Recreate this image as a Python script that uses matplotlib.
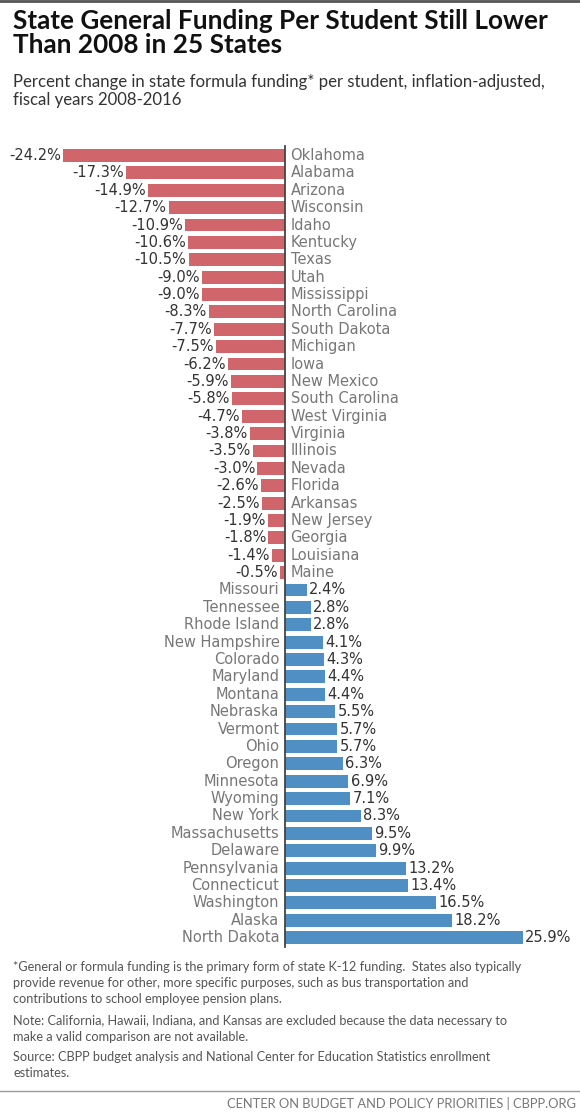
import matplotlib
matplotlib.use("Agg")
import matplotlib.pyplot as plt
from matplotlib.lines import Line2D

# 各州数据 (2008-2016 按学生计算的州公式拨款变化, %)
states = ["Oklahoma", "Alabama", "Arizona", "Wisconsin", "Idaho", "Kentucky", "Texas",
          "Utah", "Mississippi", "North Carolina", "South Dakota", "Michigan", "Iowa",
          "New Mexico", "South Carolina", "West Virginia", "Virginia", "Illinois",
          "Nevada", "Florida", "Arkansas", "New Jersey", "Georgia", "Louisiana", "Maine",
          "Missouri", "Tennessee", "Rhode Island", "New Hampshire", "Colorado",
          "Maryland", "Montana", "Nebraska", "Vermont", "Ohio", "Oregon", "Minnesota",
          "Wyoming", "New York", "Massachusetts", "Delaware", "Pennsylvania",
          "Connecticut", "Washington", "Alaska", "North Dakota"]
changes = [-24.2, -17.3, -14.9, -12.7, -10.9, -10.6, -10.5, -9.0, -9.0, -8.3, -7.7,
           -7.5, -6.2, -5.9, -5.8, -4.7, -3.8, -3.5, -3.0, -2.6, -2.5, -1.9, -1.8,
           -1.4, -0.5, 2.4, 2.8, 2.8, 4.1, 4.3, 4.4, 4.4, 5.5, 5.7, 5.7, 6.3, 6.9, 7.1,
           8.3, 9.5, 9.9, 13.2, 13.4, 16.5, 18.2, 25.9]

title = "State General Funding Per Student Still Lower\nThan 2008 in 25 States"
subtitle = "Percent change in state formula funding* per student, inflation-adjusted,\nfiscal years 2008-2016"
note1 = ("*General or formula funding is the primary form of state K-12 funding.  States also typically\n"
         "provide revenue for other, more specific purposes, such as bus transportation and\n"
         "contributions to school employee pension plans.")
note2 = ("Note: California, Hawaii, Indiana, and Kansas are excluded because the data necessary to\n"
         "make a valid comparison are not available.")
note3 = ("Source: CBPP budget analysis and National Center for Education Statistics enrollment\n"
         "estimates.")
footer = "CENTER ON BUDGET AND POLICY PRIORITIES | CBPP.ORG"

RED = "#d0666b"
BLUE = "#4f8fc4"
W, H = 580, 1113
cond = ["Liberation Sans Narrow", "DejaVu Sans"]
plain = ["Lato", "DejaVu Sans"]

fig = plt.figure(figsize=(W / 100, H / 100), dpi=100)
fig.patch.set_facecolor("white")

# 坐标轴占满宽度, 零点在 x=285px, 每 1% 约 9.17px
ax = fig.add_axes([0, 0, 1, 1])
pxper = 9.17
ax.set_xlim(-285 / pxper, (W - 285) / pxper)
y0, dy = 155.5, 17.38
ax.set_ylim((H - y0) / dy, -y0 / dy)
ax.axis("off")

n = len(states)
for i, (s, v) in enumerate(zip(states, changes)):
    c = RED if v < 0 else BLUE
    ax.barh(i, v, height=0.74, color=c, edgecolor="none")
    if v < 0:
        ax.text(v - 0.25, i, "%.1f%%" % v, ha="right", va="center",
                fontsize=10.5, color="#333333", family=cond)
        ax.text(0.6, i, s, ha="left", va="center", fontsize=10.5,
                color="#777777", family=cond)
    else:
        ax.text(v + 0.25, i, "%.1f%%" % v, ha="left", va="center",
                fontsize=10.5, color="#333333", family=cond)
        ax.text(-0.6, i, s, ha="right", va="center", fontsize=10.5,
                color="#777777", family=cond)

ax.plot([0, 0], [-0.55, n - 0.45], color="#444444", lw=1.3)

# 顶部和底部分隔线
fig.add_artist(Line2D([0, 1], [1 - 1 / H, 1 - 1 / H], color="#555555", lw=2))
fig.add_artist(Line2D([0, 1], [1 - 1091 / H, 1 - 1091 / H], color="#999999", lw=1))

fig.text(13 / W, 1 - 9 / H, title, ha="left", va="top", fontsize=18.8,
         fontweight="bold", color="#111111", family=plain, linespacing=1.0)
fig.text(13 / W, 1 - 74 / H, subtitle, ha="left", va="top", fontsize=12.1,
         color="#333333", family=plain, linespacing=1.15)

fig.text(13 / W, 1 - 961 / H, note1, ha="left", va="top", fontsize=9.2,
         color="#555555", family=plain, linespacing=1.38)
fig.text(13 / W, 1 - 1015 / H, note2, ha="left", va="top", fontsize=9.2,
         color="#555555", family=plain, linespacing=1.38)
fig.text(13 / W, 1 - 1051 / H, note3, ha="left", va="top", fontsize=9.2,
         color="#555555", family=plain, linespacing=1.38)
fig.text(576 / W, 1 - 1104 / H, footer, ha="right", va="center", fontsize=9.3,
         color="#777777", family=plain)

fig.savefig("out.png", dpi=100)
